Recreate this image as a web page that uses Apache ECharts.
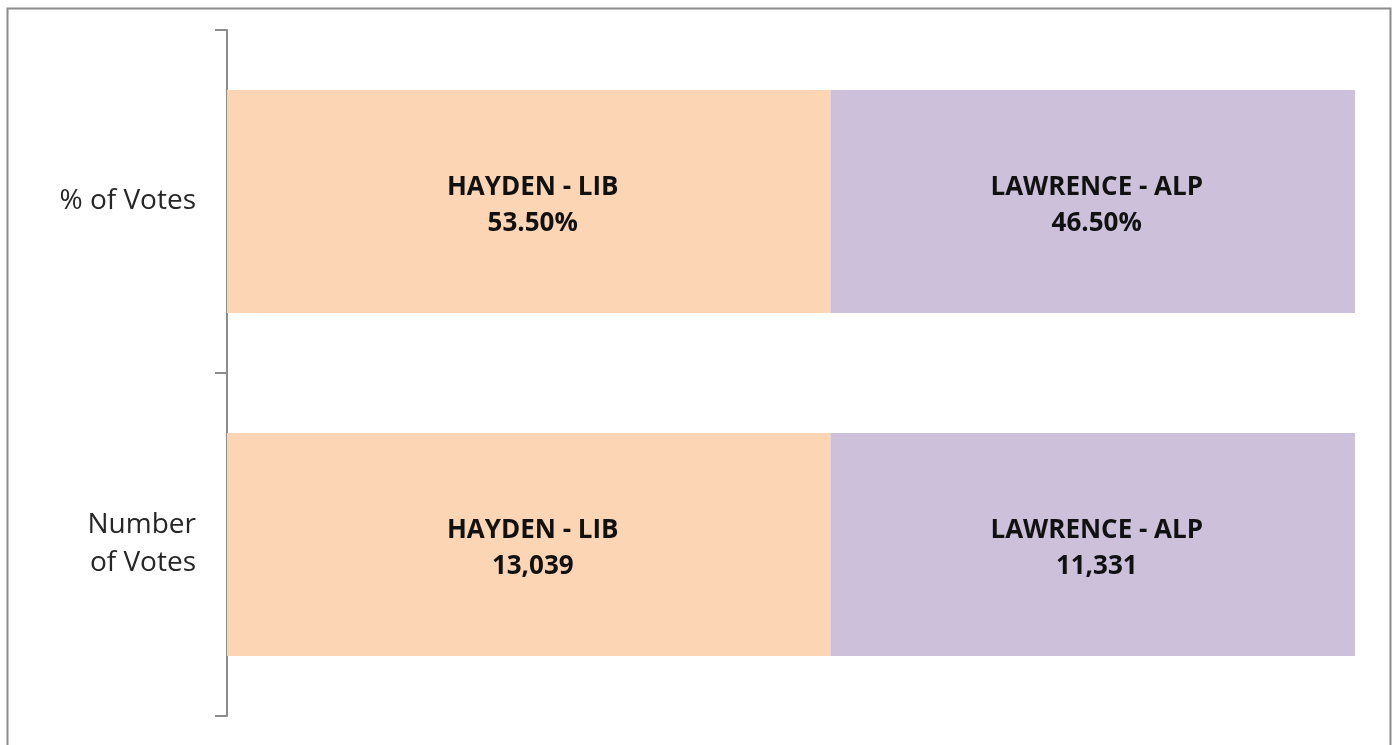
<!DOCTYPE html>
<html>
<head>
<meta charset="utf-8">
<script src="https://cdn.jsdelivr.net/npm/echarts@6/dist/echarts.min.js"></script>
<style>
  html, body { margin: 0; padding: 0; background: #fff; }
  #chart { width: 1400px; height: 745px; }
</style>
</head>
<body>
<div id="chart"></div>
<script>
// --- data ---
const categories = ['% of Votes', 'Number\nof Votes'];
const candidates = ['HAYDEN - LIB', 'LAWRENCE - ALP'];
const haydenValues = [53.5, 13039];
const lawrenceValues = [46.5, 11331];
const valueFormats = ['percent', 'number'];

const COLORS = ['#fcd5b4', '#ccc0da'];

const chart = echarts.init(document.getElementById('chart'));

// share of each row (100% stacked)
const totals = haydenValues.map((v, i) => v + lawrenceValues[i]);
const fmt = (v, i) => valueFormats[i] === 'percent'
  ? v.toFixed(2) + '%'
  : v.toLocaleString('en-US');

const makeSeries = (name, values, color) => ({
  name: name,
  type: 'bar',
  stack: 'total',
  barCategoryGap: '35%',
  data: values.map((v, i) => ({ value: v / totals[i] * 100, raw: v })),
  itemStyle: { color: color },
  label: {
    show: true,
    position: 'inside',
    offset: [4, 4],
    color: '#111',
    fontFamily: 'Open Sans',
    fontWeight: 'bold',
    fontSize: 26,
    lineHeight: 36,
    formatter: (p) => name + '\n' + fmt(p.data.raw, p.dataIndex)
  }
});

const option = {
  backgroundColor: '#fff',
  animation: false,
  graphic: [{
    type: 'rect',
    shape: { x: 7.5, y: 8.5, width: 1383, height: 760 },
    style: { fill: 'none', stroke: '#8c8c8c', lineWidth: 2 },
    silent: true
  }],
  grid: { left: 227, right: 45, top: 30, bottom: 29, containLabel: false },
  xAxis: { type: 'value', min: 0, max: 100, show: false },
  yAxis: {
    type: 'category',
    data: categories,
    inverse: true,
    axisLine: { show: true, lineStyle: { color: '#8c8c8c', width: 2 } },
    axisTick: { show: true, length: 12, lineStyle: { color: '#8c8c8c', width: 2 } },
    axisLabel: {
      color: '#262626',
      fontFamily: 'Open Sans',
      fontSize: 28,
      lineHeight: 38,
      margin: 31,
      align: 'right'
    },
    splitLine: { show: false }
  },
  series: [
    makeSeries(candidates[0], haydenValues, COLORS[0]),
    makeSeries(candidates[1], lawrenceValues, COLORS[1])
  ]
};

chart.setOption(option);
</script>
</body>
</html>
